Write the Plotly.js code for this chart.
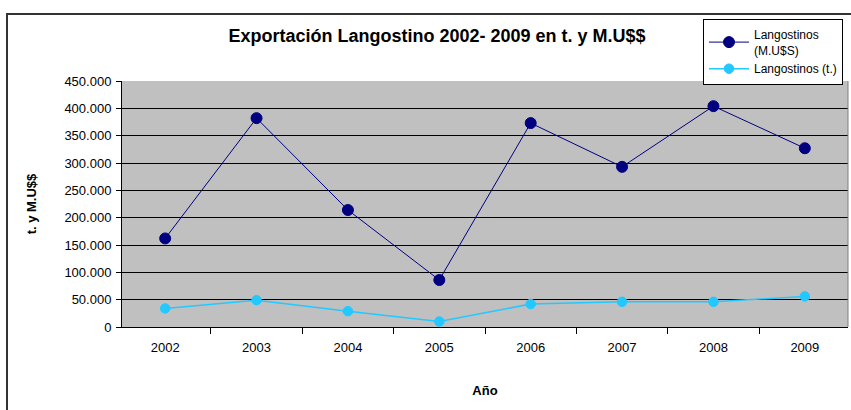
<!DOCTYPE html>
<html>
<head>
<meta charset="utf-8">
<script src="https://cdn.plot.ly/plotly-3.0.1.min.js"></script>
<style>
  html, body { margin: 0; padding: 0; background: #fff; overflow: hidden; }
  #chart { width: 851px; height: 410px; }
</style>
</head>
<body>
<div id="chart"></div>
<script>
const years = ['2002', '2003', '2004', '2005', '2006', '2007', '2008', '2009'];
const musd = [162000, 382000, 214000, 86000, 373000, 293000, 404000, 327000];
const tonnes = [34000, 49000, 29000, 10000, 42000, 46000, 46000, 56000];
const yTicks = [0, 50000, 100000, 150000, 200000, 250000, 300000, 350000, 400000, 450000];

const traces = [
  {
    x: years, y: musd, type: 'scatter', mode: 'lines+markers',
    name: 'Langostinos<br>(M.U$S)',
    line: { color: '#000080', width: 1 },
    marker: { color: '#000080', size: 11, line: { color: '#000080', width: 1 } }
  },
  {
    x: years, y: tonnes, type: 'scatter', mode: 'lines+markers',
    name: 'Langostinos (t.)',
    line: { color: '#22C8FF', width: 1.5 },
    marker: { color: '#22C8FF', size: 9.5, line: { color: '#22C8FF', width: 1 } }
  }
];

const px = v => (v - 122) / 726;
const py = v => (327 - v) / 246;

const layout = {
  width: 851, height: 410,
  margin: { l: 122, r: 3, t: 81, b: 83, autoexpand: false },
  paper_bgcolor: '#ffffff',
  plot_bgcolor: '#C0C0C0',
  separators: ',.',
  font: { family: 'Liberation Sans, Arial, sans-serif', size: 13, color: '#000' },
  title: {
    text: '<b>Exportación Langostino 2002- 2009 en t. y M.U$$</b>',
    font: { size: 18, color: '#000' },
    xref: 'container', yref: 'container',
    x: 437 / 851, xanchor: 'center',
    y: 1 - 36 / 410, yanchor: 'middle'
  },
  xaxis: {
    type: 'category', tickson: 'boundaries',
    ticks: 'outside', ticklen: 6, tickcolor: '#000', tickwidth: 1,
    showline: true, linecolor: '#000', linewidth: 1,
    showgrid: false, zeroline: false,
    tickfont: { size: 13 }, ticklabelstandoff: 8,
    title: { text: '<b>Año</b>', font: { size: 13 }, standoff: 32 },
    fixedrange: true
  },
  yaxis: {
    range: [0, 450000], tickvals: yTicks, tickformat: ',d',
    ticks: 'outside', ticklen: 5, tickcolor: '#000', tickwidth: 1,
    showline: true, linecolor: '#000', linewidth: 1,
    showgrid: true, gridcolor: '#000', gridwidth: 1, zeroline: false,
    tickfont: { size: 13 }, ticklabelstandoff: 2,
    title: { text: '<b>t. y M.U$$</b>', font: { size: 13 }, standoff: 24 },
    fixedrange: true
  },
  showlegend: true,
  legend: {
    x: px(703), y: py(19), xanchor: 'left', yanchor: 'top',
    bgcolor: '#ffffff', bordercolor: '#000', borderwidth: 1,
    font: { size: 12, color: '#000' }, tracegroupgap: 0, itemwidth: 40
  },
  shapes: [
    { type: 'line', xref: 'paper', yref: 'paper', x0: 1, x1: 1, y0: 0, y1: 1,
      line: { color: '#808080', width: 1 } },
    { type: 'line', xref: 'paper', yref: 'paper', x0: px(7), x1: px(7), y0: py(13), y1: py(420),
      line: { color: '#333333', width: 2 }, layer: 'above' },
    { type: 'line', xref: 'paper', yref: 'paper', x0: px(6), x1: px(900), y0: py(14), y1: py(14),
      line: { color: '#333333', width: 2 }, layer: 'above' }
  ]
};

Plotly.newPlot('chart', traces, layout, { displayModeBar: false, staticPlot: true });
</script>
</body>
</html>
